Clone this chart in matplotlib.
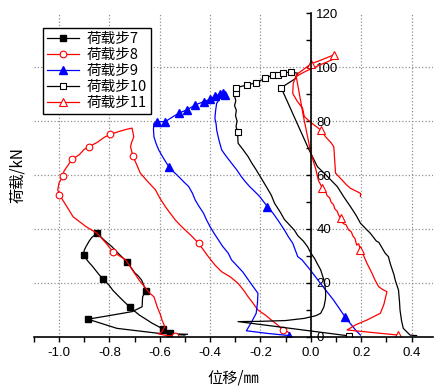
import numpy as np
import matplotlib
matplotlib.use("Agg")
import matplotlib.pyplot as plt
from matplotlib.ticker import MultipleLocator

plt.rcParams['axes.unicode_minus'] = False

cjk = ['Noto Sans CJK SC', 'DejaVu Sans']

# load step 7
x7 = [-0.49, -0.60, -0.77, -0.885, -0.79, -0.71, -0.67, -0.668, -0.656, -0.665,
      -0.672, -0.685, -0.70, -0.728, -0.76, -0.79, -0.82, -0.849, -0.87, -0.88,
      -0.893, -0.90, -0.902, -0.885, -0.866, -0.845, -0.826, -0.80, -0.787, -0.765,
      -0.748, -0.72, -0.70, -0.682, -0.655, -0.63, -0.60, -0.588, -0.57, -0.558,
      -0.53, -0.50]
y7 = [0.9, 1.2, 3.1, 6.5, 8.0, 9.3, 11.1, 14.8, 17.1, 19.5,
      21.0, 22.5, 23.8, 27.6, 30.5, 33.4, 35.8, 38.4, 36.8, 35.5,
      33.4, 32.0, 30.3, 28.0, 26.0, 23.5, 21.4, 19.0, 17.3, 15.2,
      13.6, 11.1, 9.5, 8.1, 6.5, 5.0, 3.5, 2.7, 1.8, 1.2,
      0.8, 0.6]
m7 = [3, 8, 13, 17, 22, 26, 31, 37, 39]

# load step 8
x8 = [-0.538, -0.575, -0.604, -0.591, -0.58, -0.591, -0.597, -0.61, -0.623, -0.64,
      -0.656, -0.682, -0.709, -0.735, -0.787, -0.813, -0.849, -0.892, -0.944, -0.977,
      -0.998, -1.005, -1.0, -0.985, -0.98, -0.965, -0.948, -0.92, -0.90, -0.882,
      -0.85, -0.82, -0.796, -0.76, -0.73, -0.71, -0.703, -0.712, -0.716, -0.707,
      -0.69, -0.677, -0.65, -0.617, -0.60, -0.578, -0.56, -0.538, -0.52, -0.499,
      -0.475, -0.446, -0.425, -0.407, -0.38, -0.354, -0.32, -0.289, -0.265, -0.249,
      -0.23, -0.21, -0.18, -0.157, -0.13, -0.111, -0.085, -0.08]
y8 = [0.2, 0.5, 1.0, 1.9, 3.7, 6.2, 8.1, 11.1, 14.8, 16.2,
      18.0, 21.0, 24.8, 28.5, 31.6, 34.7, 38.4, 40.8, 44.5, 49.5,
      52.6, 54.5, 57.0, 59.6, 61.5, 63.5, 65.8, 67.5, 69.5, 70.5,
      72.0, 74.0, 75.1, 76.2, 77.0, 77.4, 74.2, 72.0, 70.5, 67.2,
      63.5, 60.7, 57.8, 54.5, 51.5, 48.3, 46.0, 43.3, 41.5, 39.6,
      37.5, 34.7, 32.0, 29.7, 26.5, 24.1, 22.2, 19.8, 17.0, 14.8,
      12.5, 9.9, 8.0, 6.2, 4.2, 2.5, 1.5, 0.3]
m8 = [0, 14, 20, 23, 26, 29, 32, 39, 51, 65]

# load step 9
x9 = [-0.085, -0.17, -0.256, -0.235, -0.217, -0.212, -0.21, -0.24, -0.27, -0.315,
      -0.328, -0.35, -0.367, -0.385, -0.40, -0.415, -0.426, -0.445, -0.459, -0.47,
      -0.485, -0.505, -0.525, -0.545, -0.564, -0.585, -0.604, -0.615, -0.623, -0.625,
      -0.623, -0.61, -0.578, -0.55, -0.525, -0.492, -0.459, -0.426, -0.40, -0.381,
      -0.361, -0.348, -0.341, -0.36, -0.374, -0.378, -0.381, -0.376, -0.374, -0.365,
      -0.354, -0.335, -0.315, -0.295, -0.276, -0.26, -0.243, -0.222, -0.203, -0.173,
      -0.15, -0.131, -0.105, -0.09, -0.072, -0.052, -0.035, 0.0, 0.038, 0.07,
      0.09, 0.137, 0.16, 0.18, 0.197]
y9 = [0.4, 1.2, 2.2, 5.5, 8.7, 12.5, 16.1, 20.0, 24.0, 28.5,
      31.0, 33.5, 35.9, 38.5, 40.8, 43.5, 45.8, 48.5, 50.7, 53.2,
      55.7, 57.5, 59.4, 61.2, 63.1, 66.2, 69.3, 71.8, 74.2, 77.0,
      79.2, 79.8, 79.8, 81.5, 82.9, 84.2, 86.0, 87.2, 88.1, 89.3,
      90.0, 90.3, 89.7, 88.5, 86.6, 84.0, 81.1, 78.8, 76.7, 73.0,
      69.3, 66.8, 64.4, 62.0, 59.4, 57.5, 55.7, 53.8, 52.0, 48.3,
      45.8, 43.3, 39.6, 37.2, 34.7, 29.7, 28.5, 24.5, 19.8, 16.0,
      13.6, 7.2, 4.5, 2.2, 0.6]
m9 = [0, 24, 31, 32, 34, 35, 36, 37, 38, 39, 40, 41, 42, 59, 71]

# load step 10
x10 = [0.151, -0.289, -0.20, -0.10, -0.026, 0.02, 0.039, 0.052, 0.058, 0.059,
       0.056, 0.052, 0.045, 0.039, 0.026, 0.015, 0.0, -0.013, -0.03, -0.052,
       -0.065, -0.08, -0.105, -0.12, -0.144, -0.157, -0.177, -0.195, -0.217, -0.235,
       -0.249, -0.27, -0.289, -0.291, -0.297, -0.293, -0.299, -0.296, -0.303, -0.298,
       -0.302, -0.299, -0.299, -0.28, -0.252, -0.217, -0.181, -0.151, -0.131, -0.111,
       -0.079, -0.052, -0.059, -0.118, -0.007, 0.026, 0.06, 0.105, 0.13, 0.157,
       0.18, 0.197, 0.223, 0.236, 0.26, 0.27, 0.295, 0.308, 0.315, 0.33,
       0.335, 0.348, 0.352, 0.354, 0.36, 0.367, 0.394, 0.42]
y10 = [0.3, 5.6, 5.7, 6.0, 6.8, 7.8, 8.7, 11.1, 14.0, 16.1,
       19.0, 21.0, 23.0, 24.8, 27.0, 29.0, 31.0, 33.4, 35.5, 37.5,
       39.5, 41.0, 43.5, 46.0, 49.5, 52.5, 55.7, 58.5, 61.9, 64.5,
       66.8, 69.5, 71.8, 76.1, 78.0, 80.0, 82.0, 84.0, 85.8, 87.5,
       89.0, 90.3, 92.2, 92.8, 93.4, 94.3, 95.9, 97.1, 97.1, 98.0,
       98.1, 97.8, 95.9, 92.4, 69.3, 63.1, 60.0, 55.7, 52.0, 48.3,
       45.0, 42.1, 39.6, 38.4, 35.5, 35.0, 31.0, 29.7, 27.2, 23.0,
       21.0, 17.3, 13.0, 9.9, 6.0, 3.1, 0.6, 0.4]
m10 = [0, 33, 41, 42, 44, 45, 46, 47, 48, 49, 50, 53]

# load step 11
x11 = [0.348, 0.25, 0.144, 0.18, 0.223, 0.276, 0.29, 0.302, 0.285, 0.269,
       0.255, 0.243, 0.235, 0.223, 0.21, 0.197, 0.19, 0.182, 0.175, 0.168,
       0.16, 0.15, 0.14, 0.128, 0.118, 0.110, 0.105, 0.095, 0.09, 0.08,
       0.075, 0.065, 0.06, 0.046, 0.03, 0.02, 0.0, -0.03, -0.059, 0.0,
       0.05, 0.092, 0.095, 0.04, -0.02, -0.06, -0.07, -0.072, -0.055, -0.033,
       -0.026, 0.0, 0.039, 0.06, 0.08, 0.091, 0.092, 0.095, 0.098, 0.12,
       0.14, 0.157, 0.197, 0.197]
y11 = [0.6, 1.5, 2.5, 4.5, 6.2, 8.7, 12.0, 16.7, 17.5, 18.6,
       21.0, 23.5, 25.0, 27.2, 30.0, 32.2, 34.5, 34.0, 36.5, 37.2,
       39.0, 39.6, 41.5, 42.0, 44.0, 45.2, 46.5, 47.5, 49.0, 50.0,
       51.5, 52.3, 53.5, 55.1, 58.0, 62.0, 68.2, 82.0, 97.1, 101.2,
       103.0, 104.6, 103.2, 101.0, 98.5, 96.5, 94.0, 90.3, 87.5, 84.8,
       81.7, 79.5, 76.7, 74.0, 72.0, 70.5, 69.3, 65.0, 60.7, 58.5,
       56.5, 55.1, 53.2, 52.0]
m11 = [0, 15, 24, 33, 39, 41, 52]

labels = ['荷载步7', '荷载步8', '荷载步9', '荷载步10', '荷载步11']

fig = plt.figure(figsize=(4.34, 3.88), dpi=100)
ax = fig.add_axes([0.0779, 0.1322, 0.9198, 0.8335])

ms = 4.2
ax.plot(x7, y7, '-', color='black', lw=0.9, marker='s', ms=ms,
        mfc='black', mec='black', markevery=m7, label=labels[0])
ax.plot(x8, y8, '-', color='red', lw=0.9, marker='o', ms=ms + 0.6,
        mfc='white', mec='red', mew=0.8, markevery=m8, label=labels[1])
ax.plot(x9, y9, '-', color='blue', lw=0.9, marker='^', ms=ms + 1,
        mfc='blue', mec='blue', markevery=m9, label=labels[2])
ax.plot(x10, y10, '-', color='black', lw=0.9, marker='s', ms=ms + 0.4,
        mfc='white', mec='black', mew=0.8, markevery=m10, label=labels[3])
ax.plot(x11, y11, '-', color='red', lw=0.9, marker='^', ms=ms + 1.2,
        mfc='white', mec='red', mew=0.8, markevery=m11, label=labels[4])

ax.set_xlim(-1.1, 0.485)
ax.set_ylim(0, 120)

# axis lines: x along y=0, y axis drawn at x=0 with labels on its right
ax.spines['top'].set_visible(False)
ax.spines['left'].set_visible(False)
ax.spines['right'].set_position(('data', 0))
ax.spines['right'].set_linewidth(1.2)
ax.spines['bottom'].set_linewidth(1.2)
ax.yaxis.set_ticks_position('right')
ax.xaxis.set_ticks_position('bottom')

ax.xaxis.set_major_locator(MultipleLocator(0.2))
ax.xaxis.set_minor_locator(MultipleLocator(0.1))
ax.yaxis.set_major_locator(MultipleLocator(20))
ax.yaxis.set_minor_locator(MultipleLocator(10))
ax.xaxis.set_major_formatter(lambda v, p: f'{v:.1f}')

ax.tick_params(axis='x', which='both', direction='out', length=3.6, width=1.0,
               labelsize=9.5, pad=4)
ax.tick_params(axis='y', which='both', direction='in', length=3.6, width=1.0,
               labelsize=9.5, pad=4)
for t in ax.get_xticklabels() + ax.get_yticklabels():
    t.set_family('Liberation Sans')

# dotted grid: vertical at labelled x ticks, horizontal 20..100 only
ax.xaxis.grid(True, which='major', linestyle=':', color='#909090', lw=0.9)
for gy in range(20, 120, 20):
    ax.axhline(gy, linestyle=':', color='#909090', lw=0.9, zorder=0.5)
ax.set_axisbelow(True)

ax.set_xlabel('位移/㎜', family=cjk, fontsize=11)
ax.xaxis.set_label_coords(0.5, -0.1)
ax.set_ylabel('荷载/kN', family=cjk, fontsize=11)
ax.yaxis.set_label_position('left')
ax.yaxis.set_label_coords(-0.02, 0.5)

leg = ax.legend(loc='upper left', bbox_to_anchor=(43 / 434, 1 - 28 / 388),
                bbox_transform=fig.transFigure, borderaxespad=0,
                prop={'family': cjk, 'size': 10.5}, numpoints=1,
                handlelength=2.2, handletextpad=0.55, labelspacing=0.15,
                borderpad=0.25, fancybox=False, framealpha=1, edgecolor='black')
leg.get_frame().set_linewidth(1.0)

fig.savefig('out.png', dpi=100)
